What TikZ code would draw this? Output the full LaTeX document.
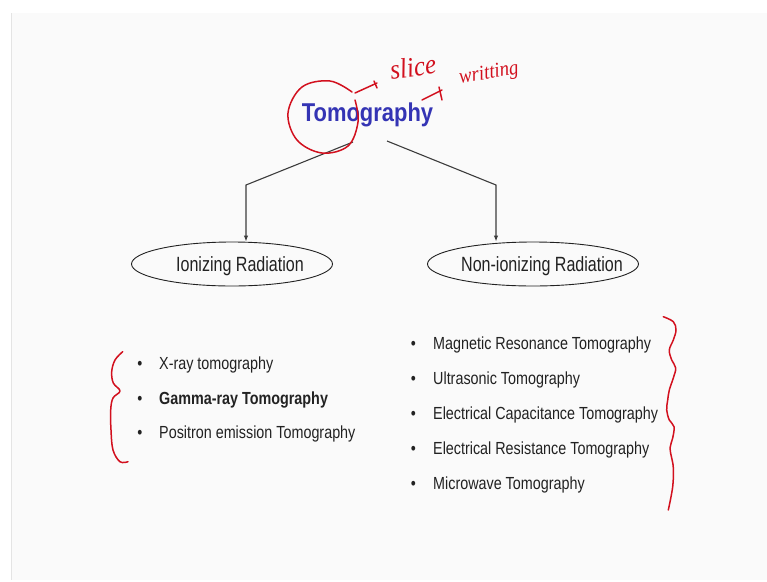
\documentclass[tikz,border=0pt]{standalone}
\usepackage{fontspec}
\setmainfont{Liberation Sans}[FakeStretch=0.82]
\newfontfamily\titlefont{Liberation Sans}[FakeStretch=0.85]
\newfontfamily\ovalfont{Liberation Sans}[FakeStretch=0.78]
\newfontfamily\handfont{Liberation Serif}[FakeStretch=0.9]
\usetikzlibrary{shapes.geometric,arrows.meta}
\definecolor{slidebg}{HTML}{FAFAFA}
\definecolor{slideedge}{HTML}{E4E4E4}
\definecolor{titleblue}{HTML}{3434B4}
\definecolor{ink}{HTML}{222222}
\definecolor{linegray}{HTML}{3C3C3C}
\definecolor{pen}{HTML}{D2101E}
\begin{document}
\begin{tikzpicture}[x=1pt,y=-1pt,
  conn/.style={draw=linegray, line width=1.1pt, -{Latex[length=6pt,width=4.5pt]}},
  oval/.style={ellipse, draw=ink, line width=0.9pt, minimum width=#1, minimum height=44pt, inner sep=0pt},
  ovallabel/.style={anchor=base, text=ink, inner sep=0pt, font=\ovalfont\fontsize{20.6}{24}\selectfont},
  bulletmark/.style={anchor=base, text=ink, inner sep=0pt, font=\fontsize{17.5}{21}\selectfont},
  item/.style={anchor=base west, text=ink, inner sep=0pt, font=\fontsize{17.5}{21}\selectfont},
  ink pen/.style={draw=pen, line width=1.5pt, line cap=round, line join=round},
  hand/.style={text=pen, inner sep=0pt, font=\handfont\itshape\fontsize{#1}{#1}\selectfont},
]
\useasboundingbox (0,0) rectangle (767,581);
% slide page
\fill[white] (0,0) rectangle (767,581);
\fill[slidebg] (11,13) rectangle (767,580);
\draw[slideedge, line width=1pt] (11,13) -- (11,580);

% title
\node[anchor=base, inner sep=0pt, text=titleblue, font=\titlefont\bfseries\fontsize{25.8}{30}\selectfont]
  (title) at (367.5,121.7) {Tomography};

% the two branches
\node[oval=201pt] (ion) at (232,264) {};
\node[ovallabel] (ionlbl) at (240,271.5) {Ionizing Radiation};
\node[oval=211pt] (nonion) at (533,264) {};
\node[ovallabel] (nonionlbl) at (542,271.5) {Non-ionizing Radiation};

\coordinate (lstart) at (353,142);
\coordinate (lbend) at (246,185);
\coordinate (rstart) at (387,141);
\coordinate (rbend) at (496,185);
\draw[conn] (lstart) -- (lbend) -- (lbend |- ion.north);
\draw[conn] (rstart) -- (rbend) -- (rbend |- nonion.north);

% ionizing methods
\foreach \y/\t/\n in {369/{X-ray tomography}/a, 404/{\bfseries Gamma-ray Tomography}/b, 438.5/{Positron emission Tomography}/c}{
  \node[bulletmark] (lb\n) at (140,\y) {•};
  \node[item] (li\n) at (159,\y) {\t};
}

% non-ionizing methods
\foreach \y/\t/\n in {349.3/{Magnetic Resonance Tomography}/a, 384/{Ultrasonic Tomography}/b, 419/{Electrical Capacitance Tomography}/c, 454/{Electrical Resistance Tomography}/d, 489/{Microwave Tomography}/e}{
  \node[bulletmark] (rb\n) at (413.5,\y) {•};
  \node[item] (ri\n) at (433,\y) {\t};
}

% handwritten notes
\draw[ink pen] plot[smooth, tension=0.6] coordinates {(352,92) (330,81) (302,87) (288,113) (297,140) (322,153) (348,146) (358,122) (355,100)};
\draw[ink pen] (355,93) -- (377,83);
\draw[ink pen] (374,81) -- (377,88);
\node[hand=28, rotate=8] (slicenote) at (413,67) {slice};
\draw[ink pen] (422,100) -- (442,90);
\draw[ink pen] (439,87) -- (442,100);
\node[hand=21, rotate=9] (writenote) at (489,74) {writting};

% braces
\draw[ink pen] plot[smooth, tension=0.6] coordinates {(122.7,351.7) (115,360) (111.7,371.7) (113.3,383) (120,391) (113,398) (110.7,410) (111,430) (113,450) (120,461.7) (128,461.7)};
\draw[ink pen] plot[smooth, tension=0.6] coordinates {(663.3,316.7) (673.3,321.7) (676,330) (673.3,340) (669.3,350) (671.7,360) (675.7,368) (673.3,378) (669.3,390) (667.7,400) (666.7,410) (669.3,420) (674,426.7) (672.7,438) (670,448) (671.7,458) (673.3,468) (672.7,486.7) (668.3,510)};
\end{tikzpicture}
\end{document}
